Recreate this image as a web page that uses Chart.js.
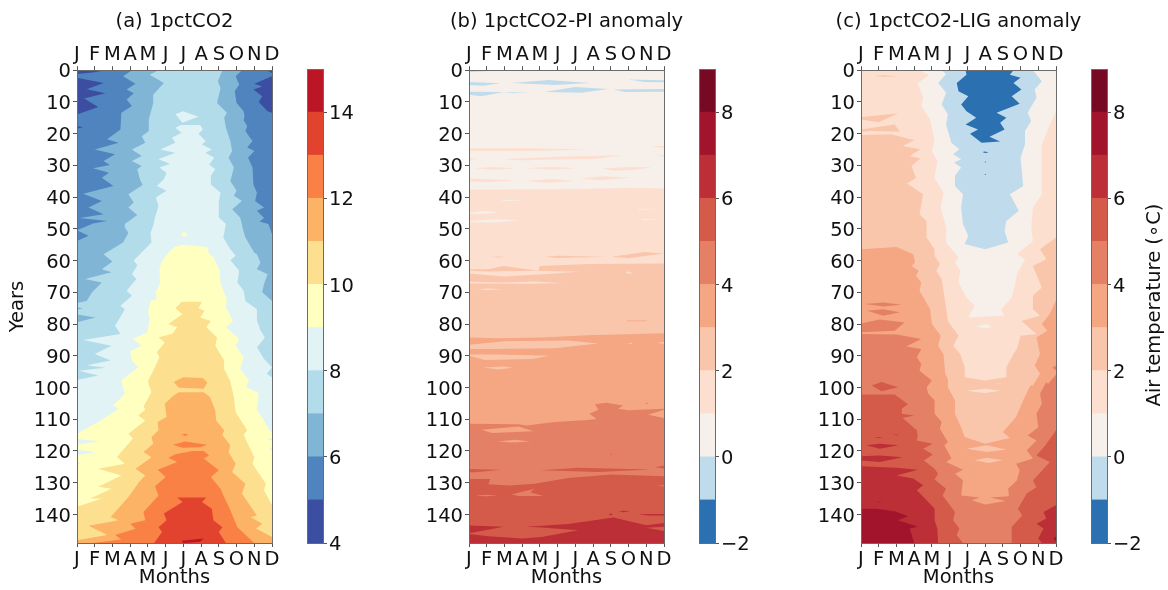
<!DOCTYPE html>
<html>
<head>
<meta charset="utf-8">
<title>Air temperature</title>
<script src="https://cdn.jsdelivr.net/npm/chart.js@4"></script>
<style>
  html, body { margin: 0; padding: 0; background: #fff; }
  canvas { position: absolute; top: 0; }
</style>
</head>
<body>
<canvas id="panelA"></canvas>
<canvas id="barA"></canvas>
<canvas id="panelB"></canvas>
<canvas id="barB"></canvas>
<canvas id="panelC"></canvas>
<canvas id="barC"></canvas>
<canvas id="barTitle"></canvas>
<script>
const months = ['J', 'F', 'M', 'A', 'M', 'J', 'J', 'A', 'S', 'O', 'N', 'D'];
const levelsA = [4, 5, 6, 7, 8, 9, 10, 11, 12, 13, 14, 15];
const levelsAnom = [-2, -1, 0, 1, 2, 3, 4, 5, 6, 7, 8, 9];
const colorsA = ['#3b4ea1', '#5084bf', '#80b5d6', '#b3dceb', '#e2f3f5', '#ffffc0', '#fddf90', '#fdb366', '#f98146', '#e2432e', '#bb1526'];
const colorsAnom = ['#2b70b1', '#c0dcec', '#f7efe9', '#fcdfcf', '#f9c6ac', '#f5a683', '#e48066', '#d45a4a', '#bd2f36', '#a2142c', '#760a24'];

// contour lines, as month,year pairs
// (a) warmer side of each level: left branch and right branch, top to bottom
const aRect = [0,0, 11,0, 11,149, 0,149];
const a6L = [3.1,0, 2.6,1.9, 3.3,4.3, 2.8,6.1, 3.2,7.3, 2.8,9.2, 3.1,11.3, 2.5,13.4, 2.45,18.7, 1.7,21.8, 2.35,22.9, 1,25, 2.15,26.5, 1.5,28.6, 1.85,29.9, .9,30.9, 1.8,32.3, 1.4,33.9, 2.05,36.5, .35,38.9, 1.4,41.2, .65,43.3, 1.5,45.4, .15,46.6, 1.7,47.5, .9,48.3, 0,50.4, .65,52.2, 0,53.8, 0,149];
const a6R = [9.3,0, 8.95,1.9, 9.15,4.5, 8.9,6.6, 9,10.3, 9.4,12.9, 9.45,14.5, 9.4,15.8, 9.6,17.6, 9.5,19.2, 9.7,20.8, 9.9,22.3, 9.6,24.4, 10,25.5, 9.65,27.6, 9.9,30.7, 9.95,36, 10.15,38.6, 10.05,41.2, 10.55,43.3, 10.15,44.3, 10.55,46.6, 10.3,47.7, 10.8,48.5, 11,51.7, 11,149];
const a7L = [4.6,0, 4.1,1.4, 4.9,4, 4.3,7.7, 4.3,10.3, 4.05,15.5, 4.05,19.2, 3.65,20.8, 3.85,22.9, 3.1,25, 3.65,27, 3.1,28.6, 3.65,30.2, 3.4,31.2, 3.55,34.4, 3.7,36.2, 2.9,39.1, 3.2,41.7, 2.9,43.3, 3.4,45.6, 2.7,48.5, 2.7,49.6, 2.9,51.2, 2.6,54.3, 1.5,58, 2,60.3, 1.4,62.7, 1.95,63.7, .45,65.8, 1.4,66.9, .85,70, .55,72.7, 0,73.4, 0,149];
const a7R = [8.2,0, 7.95,3.5, 8.1,5.6, 7.9,10.3, 8.45,13.4, 8.3,15, 8.4,18.1, 8.65,22.3, 8.75,25.5, 8.55,27.6, 8.85,30.7, 8.65,34.9, 9,38, 8.85,39.6, 9.3,41.2, 8.75,43.8, 9.2,46.4, 9.3,48.5, 9.35,50, 9.5,52.7, 10,57.5, 10.15,58, 10.35,60.6, 10.15,62.7, 10.75,64.3, 10.55,67.4, 10.45,70, 11,72.7, 11,149];
const a8L = [6.4,17.3, 5.85,17.3, 5.55,18.1, 5.9,19.7, 5.35,21.3, 5.55,22.9, 4.7,25, 5.55,26, 4.6,28.1, 5.25,29.5, 4.65,30.7, 5.05,32.3, 4.9,34.4, 4.5,36.5, 5.05,38, 4.45,40.1, 4.6,42.8, 4.4,46.4, 4.3,49, 4.15,51.2, 4.2,54.3, 3.2,60, 3.4,61.5, 3.1,64.3, 3.35,65.8, 2.8,69.5, 3.1,71.1, 2.45,74.2, 2.7,75.3, 2.15,80.5, 2.45,83.1, .35,85, 1.95,86.8, 1,89.4, 1.9,91.5, .55,93, 1.6,93.8, .1,94.7, 1.2,96.2, 0,97.6, 0,149];
const a8R = [6.4,17.3, 6.95,17.3, 7.1,18.7, 6.85,20, 7.25,22.3, 7.05,23.4, 7.6,25, 7.25,26, 7.75,27.6, 7.45,29.7, 7.8,31.2, 7.55,33.3, 7.55,36, 8.1,38.6, 8,41.2, 8,46.4, 8.4,48.5, 8.25,52.7, 8.65,56.4, 8.95,58.5, 8.65,59.9, 9.15,63.2, 9.05,66.9, 9.4,69.5, 9.5,72.7, 10.15,75.3, 10.15,78.9, 10.35,82, 10.6,84.2, 10.15,87.3, 10.55,91, 11,93.6, 10.7,95.7, 11,96.8, 11,149];
const a9L = [6,55, 5.5,55.7, 5.15,57.5, 4.75,60.5, 4.65,63.2, 4.7,66.9, 4.45,70, 4.5,72.1, 4.15,72.7, 4,76.3, 4.1,77.9, 3.98,82.6, 3.15,84.7, 3.65,86.8, 3,88.6, 3.1,91.5, 3.45,93.6, 2.5,97.8, 2.7,102, 2.05,105.7, 2.35,106.7, 2.05,107.8, 1.2,110.9, 0,114.6, 0,149];
const a9R = [6,55, 7.35,55.7, 7.45,57.8, 7.7,59, 8.05,63.2, 8.1,67.4, 8.45,72.1, 8.4,74.8, 8.8,79, 8.4,81, 9.15,84.7, 8.95,86.8, 9.4,90.5, 9.2,94.2, 9.7,97.8, 9.55,99.9, 10.25,101.8, 10.15,107.2, 10.55,110.4, 10.85,113.5, 11,114, 11,149];
const a10L = [6.5,73, 5.9,73, 5.55,75, 5.95,76.9, 5.15,80, 5.65,81, 5.4,83, 4.6,84.2, 4.95,85.8, 4.5,88.9, 4.65,90.5, 4.3,94.7, 4,98, 4.2,101.5, 3.75,106, 3.85,107, 3.45,108.8, 3.85,110.4, 2.9,114.6, 3.15,116.1, 2.25,121.9, 2.7,124, 1.2,125.6, 2.5,127.7, 1.2,131.3, 1.95,131.9, .75,135, 1.4,135, 0,137.6, 0,149];
const a10R = [6.5,73, 7.05,73, 6.85,75, 7.2,75.8, 6.95,77.9, 7.55,79, 7.3,81, 7.9,84.2, 7.8,86.8, 8.3,91.5, 8.3,94.2, 8.65,98, 8.85,103, 8.95,107.8, 9.6,113.5, 9.4,115, 10,122, 9.9,124, 10.65,130.3, 10.55,132.4, 11,137.1, 11,149];
const a11L = [6.5,101.5, 5.75,101.5, 5.45,102.5, 4.95,105.1, 5.05,109.3, 4.55,110.9, 4.6,113.5, 4.2,115.6, 4.3,117.7, 3.75,120.3, 4.2,122, 3.3,125.6, 3.85,127.7, 3.5,129.8, 2.9,134.5, 1.9,140.8, 2.35,141.8, .65,143.6, 1.7,146.5, 0,148.1, 0,149];
const a11R = [6.5,101.5, 7.15,101.5, 7.5,103, 7.8,107.2, 7.85,110.4, 8.3,113.5, 8.2,115, 8.65,118.2, 8.55,120.3, 8.95,124, 8.75,126.6, 9.5,130.3, 9.3,133.4, 10.15,140.3, 9.8,140.8, 10.45,142.9, 10.1,144.4, 11,147.1, 11,149];
const a12L = [6.5,120, 5.55,121, 5.15,122.1, 5.65,123.5, 4.55,125.9, 5,128.2, 4.4,131.1, 4.6,134, 3.75,139.2, 3.85,141.8, 3,142.9, 3.3,144.5, 2.15,146.5, 2.5,147.9, .9,149];
const a12R = [6.5,120, 7.15,120, 7.45,121.4, 7.15,122.4, 8,126.1, 7.55,128.2, 8.1,131.9, 8.3,134.5, 8.65,138.7, 9.05,144, 10,149];
const a13L = [6.5,134.7, 5.65,134.7, 5.95,136.1, 4.9,139.7, 5.05,141.8, 4.6,144, 4.8,145.5, 4.4,148.6, 4.35,149];
const a13R = [6.5,134.7, 7.3,134.7, 7.05,136.1, 7.6,138.2, 7.7,141.8, 8.2,144, 8,145.5, 8.4,149];
// (a) closed islands: [band, pairs]
const aIslands = [
  [0, [0,0, 1.6,0, .9,.7, 0,1.2]],
  [0, [0,2.4, 1.5,4, .55,6, 1.6,7.3, .4,8.9, 1.2,11.6, 0,14]],
  [0, [0,17.6, .35,18, 0,18.4]],
  [0, [11,0, 10.7,0, 11,.9]],
  [0, [11,1.9, 10,4.3, 10.45,5.1, 9.95,6.1, 10.45,8.2, 10.25,10, 10.75,12.9, 11,13.4]],
  [2, [0,74.7, .35,75, 0,75.5]],
  [2, [0,77, 1.05,77.9, 0,79.4]],
  [4, [5.55,13.9, 6,12.9, 6.85,14.7, 5.95,16.6]],
  [5, [5.87,51.7, 6.05,51, 6.25,51.9, 6,52.4]],
  [4, [0,116.2, 1.3,116.9, 0,118]],
  [4, [0,119.5, 1.05,120.4, 0,121.3]],
  [4, [0,123.6, .3,124, 0,124.3]],
  [4, [11,115.8, 10.7,116.2, 11,116.8]],
  [4, [11,118.8, 10.85,119.4, 11,120]],
  [7, [5.45,98.3, 6,96.8, 7.1,97, 7.35,98.5, 7.15,100.4, 5.75,100.1]],
  [8, [5.4,118, 6.1,117, 7.35,118, 6.95,118.8, 5.95,119]],
  [8, [5.9,114.9, 6.1,114.6, 6.3,114.9, 6.1,115.3]],
  [10, [5.9,148.3, 7.15,147.6, 6.95,148.6, 6,149]]
];

// (b) warmer side of each level, left edge to right edge
const b1Top = [0,37.7, 4.85,37.5, 9,37.1, 11,37.3];
const b2Top = [0,62.7, 1.1,62.7, 1.95,61.7, 3.9,63.2, 4,61.7, 6.7,61.1, 11,60.9];
const b3Top = [0,84.2, 1.65,84.5, 4.1,84.2, 6.7,83.5, 11,82.9];
const b4Top = [0,111.4, 2.8,111.6, 3.25,112, 4.85,110.9, 6.7,110.2, 7.2,109.9, 6.8,108.3, 7.3,107, 7.1,105.3, 7.75,104.8, 8.7,105.7, 8.4,106.7, 9,107.2, 11,106.7];
const b5Top = [0,128.8, 1.2,128.8, 1.1,130.5, 2.3,130.9, 3.7,130.3, 5.6,128.5, 8.05,127.4, 11,128];
const b6Top = [0,146.2, 1.1,146.9, 3,147.6, 4.1,147.1, 6.15,145, 4.1,144.1, 3.25,143.9, 5.6,143, 8.15,141, 10,143.4, 11,142.7];
const bIslands = [
  [1, [0,0, 2,0, .2,.6, 0,.6]],
  [1, [0,3.7, 1.75,4.1, .8,4.9, 0,4.7]],
  [1, [2.4,4, 4.5,3.1, 6.8,4, 4.85,4.7]],
  [1, [0,6.8, 1.95,6.9, .7,8.2, 0,7.7]],
  [1, [1.95,7, 3.35,6.9, 2.5,7.3]],
  [1, [4.25,6.9, 6,5.3, 7.85,5.9, 6.35,7.1]],
  [1, [8.15,6.1, 11,5.9, 11,6.8, 8.8,6.9]],
  [1, [9,2.9, 11,3.2, 11,3.8, 9.9,3.7]],
  [3, [0,24.6, 3,24.6, 6.8,24.9, 3.9,25.5, 0,25.5]],
  [3, [10.3,23.9, 11,23.9, 11,24.6]],
  [3, [10.6,26.8, 11,26.8, 11,27.3]],
  [3, [0,27.7, .5,27.9, 0,28.3]],
  [3, [1.95,28.1, 4.85,27.3, 8.7,26.8, 7.1,27.9, 2.95,28.4]],
  [3, [.35,30.9, 1.3,30.5, 2.6,30.9, 1.3,31.4]],
  [3, [3.25,30.9, 4.65,30.4, 6.05,30.9, 4.65,31.3]],
  [3, [7.5,31, 9,30.5, 10.3,30.7, 9.35,31.4, 8.15,31.7]],
  [3, [0,34.1, 2.6,34.7, .9,35.3, 0,35]],
  [3, [3.25,34.9, 4.65,34.3, 5.9,34.9, 4.45,35.5]],
  [3, [6.3,34.1, 7.65,33.4, 9.15,33.9, 7.3,34.7]],
  [2, [1.65,41, 2.3,40.8, 3.05,41, 2.3,41.2]],
  [2, [0,44.9, .9,44.3, 1.65,44.9, .7,45.3, 0,45.2]],
  [2, [0,47.5, 1.45,47, 2.8,47.3, 1.45,48, 0,47.9]],
  [2, [9.5,43.8, 10.6,43.8, 9.6,44.1]],
  [2, [9.75,47, 11,47, 9.75,47.3]],
  [4, [1.3,58.8, 1.65,58.7, 2.1,58.9, 1.65,59]],
  [4, [4.25,58.8, 5,58.5, 7.75,58.8, 5,59.2]],
  [4, [8.05,58.8, 9.9,57.3, 11,57.8, 9,59.3]],
  [3, [0,63.2, 1.1,63.4, 3.7,63.2, 6.15,63.5, 4.85,64.1, 2,65, 0,64.1]],
  [3, [0,66.7, 2,66.9, 3.7,66.6, 5.3,67.1, 3.7,67.3, 0,67.2]],
  [3, [.45,69, 1.1,68.8, 1.85,69, 1.1,69.3]],
  [3, [8.8,63.7, 9,63.4, 9.25,64, 9,64.1]],
  [5, [8.9,78.9, 10,78.9, 10,79.1, 8.9,79.1]],
  [4, [0,86.5, 2,85.4, 5.6,85.2, 7.3,86.1, 4.85,87.6, 1.1,87.9, 0,87.9]],
  [4, [0,89.6, 1.65,89.6, 4.55,90, 3.55,91, .9,91.3, 0,90]],
  [4, [.8,93.7, 1.95,93.4, 2.45,93.8, 1.65,94.3]],
  [4, [8.9,86.1, 9.2,85.9, 9.2,86.3]],
  [4, [10.6,86, 11,85.6, 11,86.2]],
  [5, [.7,113.3, 2.8,112.3, 3.65,113.8, 1.3,114.3]],
  [5, [1.65,117, 2.6,116.5, 3.45,117, 2.4,117.3]],
  [5, [10.1,108.6, 11,107, 11,109.6]],
  [6, [9.9,104.9, 10.1,104.8, 10.1,105.2]],
  [7, [0,125.7, 1.85,125.9, .35,126.7, 0,126.7]],
  [7, [4.05,126.1, 6.15,125.3, 10.3,125.8, 7.3,126.6]],
  [7, [10.5,125.1, 11,124.6, 11,125.5]],
  [7, [7.95,121, 8.05,120.9, 8.05,121.2]],
  [6, [.35,134, 1,133.8, 1.65,134.1, .9,134.3]],
  [6, [2.4,133.7, 3.7,131.9, 3.45,133, 4.2,134.2, 2.8,134.2]],
  [6, [10.6,130.9, 11,130.8, 11,131.2]],
  [7, [10,144.2, 11,143.9, 11,145.2]],
  [8, [8.45,139, 8.7,138.8, 9.1,139.1, 8.7,139.3]],
  [8, [9.55,139.9, 11,139.9, 11,140.3, 10.1,140.3]],
  [8, [7.9,139.9, 8.05,139.7, 8.1,140.1, 7.95,140.3]],
  [8, [0,143.5, 1.95,143.9, .15,145.8, 0,145.8]]
];

// (c) colder side of each level: left branch and right branch, top to bottom
const c7L = [0,0, 0,138.2, .85,138.2, 1.9,139, 2.65,140.6, 2.1,141.8, 3.2,143.9, 2.75,144.4, 3,149];
const c7R = [11,0, 11,149];
const c6L = [0,0, 0,124.8, 2,125.3, 3.2,125.9, 2,127.7, 2.95,128.7, 3.5,130.8, 3.15,132.4, 3.7,135.5, 4.15,138.2, 4.15,141.8, 4.3,144.4, 4.35,149];
const c6R = [11,0, 11,137.1, 10.3,139.2, 10.45,141.3, 9.9,142.9, 10.3,144.4, 10,147.6, 10.2,149];
const c5L = [0,0, 0,102.2, 1.9,102.2, 2.65,105.3, 2.3,106.7, 2.3,108.3, 3,108.8, 2.35,109.6, 3.15,113.5, 3.2,115.1, 3.15,116.7, 4.05,117.7, 3.5,119.3, 4.05,121.1, 3.55,123, 4.15,125.6, 4.35,127.2, 4.15,129, 4.8,131.9, 4.6,134, 5.3,139.2, 5.2,141.8, 5.55,144.4, 5.4,146.5, 5.75,149];
const c5R = [11,0, 11,113.5, 10.4,118.2, 9.9,121.4, 10.65,123.5, 9.7,129.3, 9.9,131.4, 9.35,133.4, 8.85,138.2, 9.1,140.3, 8.5,143.9, 8.5,149];
const c4L = [0,0, 0,83.1, 2,83.3, 3.4,84.7, 2.55,87.1, 3.4,87.9, 3.15,90.5, 3.4,92.6, 3.3,94.7, 4,97.8, 3.7,99.9, 3.8,102, 4.15,104, 4.15,108.3, 4.55,110.9, 4.45,113, 4.9,117.2, 4.7,118.2, 5.1,122.4, 4.8,123.5, 5.75,125.9, 5.3,127.2, 5.75,129.2, 5.65,134, 6.7,134.7, 6.25,135.5, 7,136.9];
const c4R = [11,0, 11,95.9, 10.55,98.9, 10.45,98.3, 10.1,102, 10.2,105.1, 9.9,108.3, 10,112.5, 9.4,115.1, 9.9,116.7, 9.35,119.8, 9.7,122.4, 8.75,124, 8.95,126.1, 8.8,129.2, 8.3,131.9, 8.35,134.3, 7.3,134.7, 8.15,135.8, 7,136.9];
const c3L = [0,0, 0,56.4, 2,55.7, 2.95,58, 3.05,60.6, 2.85,61.7, 3.25,63.2, 3.1,64.8, 3.4,66.9, 3.3,69.5, 3.9,75.3, 4,80, 4.5,83.7, 4.35,86.8, 4.65,89.4, 4.75,95.7, 4.9,97.3, 4.9,99.9, 5.3,104, 5.3,108.3, 5.65,112.5, 5.85,115.6, 7,117.7];
const c3R = [11,0, 11,72.4, 10.65,76.8, 10.2,80, 10.5,82.1, 9.9,84.2, 10.1,89.4, 9.8,93.1, 10.1,95.7, 9.7,99.4, 9.55,99.4, 9.15,104, 8.75,109.3, 8,114, 8.4,115.9, 7,117.7];
const c2L = [0,0, 0,20.4, 1.7,20.2, 3,22.1, 2.35,23.9, 3.35,24.9, 2.75,27, 3.35,27.8, 2.85,30.2, 3.1,33.9, 2.6,35.7, 3.5,39.1, 3.3,45.4, 3.7,47.5, 3.7,52.7, 4.15,56.4, 4.15,58.5, 4.45,61.1, 4.25,63.2, 4.55,65.8, 4.8,74.8, 4.9,79, 5.5,83.7, 5.2,86.8, 5.6,89.4, 5.85,93.6, 5.85,96.8, 7,97.8];
const c2R = [11,0, 11,52.7, 10.1,56.4, 10.45,59.6, 9.7,61.7, 10.2,68.5, 9.7,71.1, 9.7,75.3, 10.1,77.4, 9.05,79, 9.9,83.1, 9,83.7, 8.8,87.8, 8.6,89.4, 8.2,93.6, 8.2,96.8, 7,97.8];
const c1L = [3.3,0, 3.85,1.6, 3.2,4, 3.5,8.7, 3.4,11.3, 3.9,15.5, 4.15,22.3, 4,25.5, 4.3,28.6, 4.15,33.9, 4.65,38.6, 4.5,43.3, 4.8,49.6, 4.8,54.3, 5.5,59, 5.3,60.6, 5.6,63.2, 5.5,66.9, 5.95,71.6, 6.4,74.2, 6.05,77.9];
const c1R = [11,0, 11,12.9, 10.75,16, 10.2,23.4, 10.2,39.1, 9.7,43.3, 9.6,50, 9.7,53.8, 8.8,58, 9.25,59.6, 8.8,64.3, 8.7,67.4, 8.5,71.6, 7.9,75.3, 8.1,77.4, 6.05,77.9];
const c0L = [4.55,0, 4.8,1.2, 4.35,4, 4.8,7.1, 4.55,10.8, 4.9,13.9, 4.8,17.1, 5.1,22.9, 5.55,24.9, 5.2,26.5, 5.65,28.1, 5.25,29.1, 5.65,30.7, 5.3,33.3, 5.3,36.5, 5.75,39.1, 5.65,43.3, 5.75,48.5, 6.05,52.2, 5.85,54.8, 7,56.4];
const c0R = [9.7,0, 10.2,3.5, 9.8,6.1, 9.9,8.7, 9.4,13.4, 9.6,16, 9.25,19.2, 9.25,23.4, 9,27.6, 9.15,36.5, 8.4,39.1, 8.9,44.3, 8.2,47.5, 8.1,50.6, 8.3,54.3, 7,56.4];
const cm1L = [5.9,0, 5.95,1.4, 5.4,4, 5.5,6.6, 6.05,8.2, 5.65,10.8, 5.95,12.9, 6.5,15, 5.9,17.1, 6.6,18.7, 6.15,20, 6.8,22.9, 7.85,22.5];
const cm1R = [8.6,0, 8.4,1.4, 9,2.4, 8.6,4, 9.05,6.1, 8.5,8.2, 8.95,10.6, 7.65,13.4, 8.2,15, 7.85,16.6, 8.1,18.7, 7.25,21, 7.85,22.5];
const cIslands = [
  [0, [6.85,25.8, 7,25.6, 7.2,25.9, 7,26.1]],
  [0, [6.95,28.9, 7.05,28.8, 7.05,29.1]],
  [0, [6.95,32.8, 7.05,32.7, 7.05,33]],
  [4, [.75,1.9, 1.25,1.6, 2.1,1.9, 1.25,2.1]],
  [4, [0,14.8, 2.1,13.6, 1,16.4, 0,15.5]],
  [4, [0,18.7, 1.9,17.1, 2.2,19.4, .5,19.2, 0,19.4]],
  [6, [.2,73.7, 1.25,73.2, 2.3,73.9, 1.25,74.5]],
  [6, [.35,75.8, 1.25,75.3, 2.2,76.3, 1.25,77.4]],
  [6, [0,79.8, 1.05,78.6, 2.45,79.5, 1.9,82.1, 0,82.6]],
  [6, [11,93.1, 10.8,93.8, 11,94.6]],
  [2, [6.5,80.8, 7,80, 7.4,80.8, 7,81.4]],
  [3, [5.95,101, 7,100.4, 7.85,101, 7,101.7]],
  [3, [7.65,98.7, 8,98.8, 7.65,99]],
  [7, [.6,99.4, 1.15,98.3, 2.1,99.9, 1.15,101.2]],
  [4, [5.95,119.3, 7.1,118.2, 8.2,119.5, 7.1,120.3]],
  [4, [6.4,122.9, 7.1,122.1, 8,122.9, 7.2,123.8]],
  [8, [.3,118.2, 1.05,117.7, 2.1,118.2, 1.05,119.3]],
  [8, [0,121.7, 1.05,121.4, 2.35,122, 1.05,123.5, 0,123]],
  [8, [.75,115.8, 1,115.6, 1.25,115.9]],
  [8, [1.8,114.9, 2,114.8, 2.15,115.1]],
  [9, [.85,136.1, 1,136, 1.2,136.3]],
  [9, [10.85,147.5, 11,147, 11,148.6]]
];

const FONT = 'DejaVu Sans';
const SPINE = '#6b6b6b';
const TEXT_SIZE = 19.5;
Chart.defaults.font.family = FONT;
Chart.defaults.color = '#111';
Chart.defaults.animation = false;

function toPoints(flat) {
  const pts = [];
  for (let i = 0; i < flat.length; i += 2) pts.push({x: flat[i], y: flat[i + 1]});
  return pts;
}

// bottom of the list is painted last, chart.js draws the first dataset on top
function shape(flat, color) {
  return {data: toPoints(flat), showLine: true, fill: 'shape', backgroundColor: color,
          borderWidth: 0, pointRadius: 0, tension: 0};
}
function branches(L, R) {
  const rev = [];
  for (let i = R.length - 2; i >= 0; i -= 2) rev.push(R[i], R[i + 1]);
  return L.concat(rev);
}
function place(id, left, width) {
  const c = document.getElementById(id);
  c.width = width;
  c.height = 590;
  c.style.left = left + 'px';
  c.style.width = width + 'px';
  c.style.height = '590px';
  return c;
}
function fixW(w) { return s => { s.width = w; }; }
function fixH(h) { return s => { s.height = h; }; }
const gridOpts = {drawOnChartArea: false, tickLength: 4, tickColor: '#555', z: 1};
const borderOpts = {color: SPINE, width: 1, z: 1};

function drawPanel(id, left, title, yTitle, shapes) {
  const monthTick = v => months[v];
  const tickFont = {size: TEXT_SIZE};
  // canvas is symmetric round the plot so the title centres on it
  new Chart(place(id, left, 349), {
    type: 'scatter',
    data: {datasets: shapes.slice().reverse()},
    options: {
      responsive: false,
      layout: {padding: 0},
      plugins: {
        legend: {display: false},
        tooltip: {enabled: false},
        title: {display: true, text: title, color: '#111', font: {size: TEXT_SIZE, weight: 'normal'},
                padding: {top: 10, bottom: 0}}
      },
      scales: {
        x: {type: 'linear', position: 'bottom', min: 0, max: 11, afterFit: fixH(47),
            ticks: {stepSize: 1, autoSkip: false, maxRotation: 0, padding: 1, font: tickFont, callback: monthTick},
            grid: gridOpts, border: borderOpts,
            title: {display: true, text: 'Months', font: {size: TEXT_SIZE}, padding: {top: 0, bottom: 0}}},
        x2: {type: 'linear', position: 'top', min: 0, max: 11, afterFit: fixH(36.8),
            ticks: {stepSize: 1, autoSkip: false, maxRotation: 0, padding: 0, font: tickFont, callback: monthTick},
            grid: gridOpts, border: borderOpts},
        y: {type: 'linear', position: 'left', reverse: true, min: 0, max: 149, afterFit: fixW(77),
            ticks: {stepSize: 10, includeBounds: false, padding: 2, labelOffset: 2, font: tickFont},
            grid: gridOpts, border: borderOpts,
            title: {display: !!yTitle, text: yTitle, font: {size: TEXT_SIZE}, padding: {top: 6.5, bottom: 0}}},
        y2: {type: 'linear', position: 'right', reverse: true, min: 0, max: 149, afterFit: fixW(77),
            ticks: {display: false}, grid: {display: false}, border: borderOpts}
      }
    }
  });
}

function drawBar(id, left, levels, colors) {
  const datasets = colors.map((c, i) => ({
    data: [[levels[i], levels[i + 1]]], backgroundColor: c,
    barPercentage: 1, categoryPercentage: 1, borderWidth: 0
  }));
  new Chart(place(id, left, 70), {
    type: 'bar',
    data: {labels: [''], datasets: datasets},
    options: {
      responsive: false,
      layout: {padding: 0},
      plugins: {legend: {display: false}, tooltip: {enabled: false}},
      scales: {
        x: {stacked: true, position: 'bottom', afterFit: fixH(47), ticks: {display: false},
            grid: {display: false}, border: borderOpts},
        x2: {type: 'linear', position: 'top', afterFit: fixH(69), ticks: {display: false},
            grid: {display: false}, border: borderOpts},
        y2: {type: 'linear', position: 'left', min: levels[0], max: levels[levels.length - 1],
            afterFit: fixW(10), ticks: {display: false}, grid: {display: false}, border: borderOpts},
        y: {type: 'linear', position: 'right', min: levels[0], max: levels[levels.length - 1],
            afterFit: fixW(44),
            ticks: {stepSize: 2, includeBounds: false, padding: 2, labelOffset: 2, font: {size: TEXT_SIZE},
                    callback: v => String(v).replace('-', '\u2212')},
            grid: gridOpts, border: borderOpts}
      }
    }
  });
}

const shapesA = [
  shape(aRect, colorsA[1]),
  shape(branches(a6L, a6R), colorsA[2]),
  shape(branches(a7L, a7R), colorsA[3]),
  shape(branches(a8L, a8R), colorsA[4]),
  shape(branches(a9L, a9R), colorsA[5]),
  shape(branches(a10L, a10R), colorsA[6]),
  shape(branches(a11L, a11R), colorsA[7]),
  shape(branches(a12L, a12R), colorsA[8]),
  shape(branches(a13L, a13R), colorsA[9])
].concat(aIslands.map(d => shape(d[1], colorsA[d[0]])));

const bottomEdge = [11, 149, 0, 149];
const shapesB = [
  shape(aRect, colorsAnom[2]),
  shape(b1Top.concat(bottomEdge), colorsAnom[3]),
  shape(b2Top.concat(bottomEdge), colorsAnom[4]),
  shape(b3Top.concat(bottomEdge), colorsAnom[5]),
  shape(b4Top.concat(bottomEdge), colorsAnom[6]),
  shape(b5Top.concat(bottomEdge), colorsAnom[7]),
  shape(b6Top.concat(bottomEdge), colorsAnom[8])
].concat(bIslands.map(d => shape(d[1], colorsAnom[d[0]])));

const shapesC = [
  shape(aRect, colorsAnom[9]),
  shape(branches(c7L, c7R), colorsAnom[8]),
  shape(branches(c6L, c6R), colorsAnom[7]),
  shape(branches(c5L, c5R), colorsAnom[6]),
  shape(branches(c4L, c4R), colorsAnom[5]),
  shape(branches(c3L, c3R), colorsAnom[4]),
  shape(branches(c2L, c2R), colorsAnom[3]),
  shape(branches(c1L, c1R), colorsAnom[2]),
  shape(branches(c0L, c0R), colorsAnom[1]),
  shape(branches(cm1L, cm1R), colorsAnom[0])
].concat(cIslands.map(d => shape(d[1], colorsAnom[d[0]])));

drawPanel('panelA', 0, '(a) 1pctCO2', 'Years', shapesA);
drawBar('barA', 297, levelsA, colorsA);
drawPanel('panelB', 392, '(b) 1pctCO2-PI anomaly', '', shapesB);
drawBar('barB', 689, levelsAnom, colorsAnom);
drawPanel('panelC', 784, '(c) 1pctCO2-LIG anomaly', '', shapesC);
drawBar('barC', 1081, levelsAnom, colorsAnom);

// rotated colourbar label, chart.js only turns right-hand axis titles the other way
new Chart(place('barTitle', 1141, 27), {
  type: 'bar',
  data: {datasets: []},
  options: {
    responsive: false,
    layout: {padding: {top: 20}},
    plugins: {
      legend: {display: false},
      title: {display: true, position: 'left', text: 'Air temperature (\u2218C)', font: {size: TEXT_SIZE, weight: 'normal'}, color: '#111', padding: 2}
    },
    scales: {x: {display: false}, y: {display: false}}
  }
});
</script>
</body>
</html>
